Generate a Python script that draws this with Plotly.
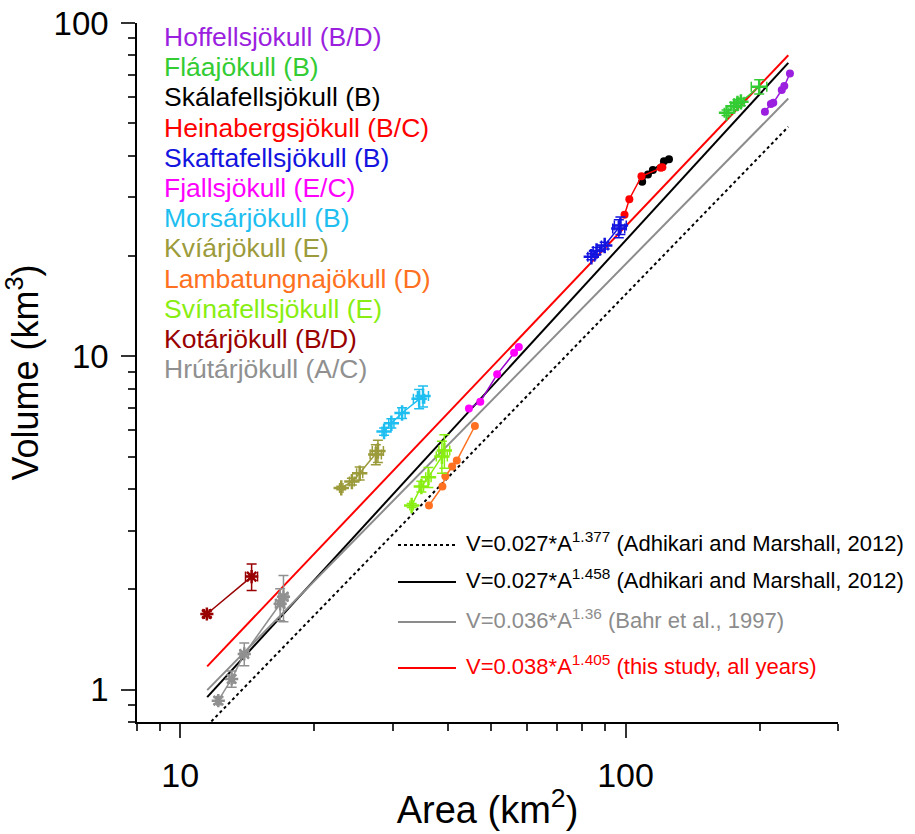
import plotly.graph_objects as go
import math

# ---------------- data ----------------
glaciers = ["Hoffellsjökull (B/D)", "Fláajökull (B)", "Skálafellsjökull (B)", "Heinabergsjökull (B/C)",
            "Skaftafellsjökull (B)", "Fjallsjökull (E/C)", "Morsárjökull (B)", "Kvíárjökull (E)",
            "Lambatungnajökull (D)", "Svínafellsjökull (E)", "Kotárjökull (B/D)", "Hrútárjökull (A/C)"]
colors = ["#9B1FDF", "#33CC33", "#000000", "#FF0000", "#1414E0", "#FF00FF", "#1EBFF0", "#9C9B3B",
          "#FF7020", "#88EE11", "#990000", "#909090"]
line_colors = ["#9B1FDF", "#33CC33", "#000000", "#FF0000", "#1414E0", "#9900CC", "#1EBFF0", "#9C9B3B",
               "#FF7020", "#88EE11", "#990000", "#909090"]
symbols = ["circle", "cross-thin", "circle", "circle", "cross-thin", "circle", "cross-thin", "cross-thin",
           "circle", "cross-thin", "asterisk", "asterisk"]

hoff_A = [205.6, 212.0, 214.7, 224.3, 227.3, 234.0]
hoff_V = [54.2, 57.1, 57.6, 62.9, 64.7, 70.6]
flaa_A = [168.6, 175.4, 178.4, 181.6, 199.6]
flaa_V = [53.8, 56.3, 57.4, 58.0, 64.4]
flaa_eA = [2, 3, 3, 3, 8]
flaa_eV = [1.0, 1.5, 1.5, 1.5, 3.2]
skal_A = [109.0, 112.3, 115.2, 122.0, 125.2]
skal_V = [33.4, 35.1, 36.2, 38.5, 39.0]
hein_A = [99.5, 102.0, 108.6, 120.0, 121.0]
hein_V = [26.6, 29.6, 34.7, 36.8, 36.9]
skaf_A = [83.8, 86.1, 89.8, 96.6, 97.4]
skaf_V = [19.9, 20.7, 21.5, 24.2, 24.7]
skaf_eA = [1.5, 1.5, 1.5, 3.0, 3.0]
skaf_eV = [0.4, 0.5, 0.5, 1.5, 1.5]
fjal_A = [44.5, 47.2, 51.5, 56.2, 57.6]
fjal_V = [6.97, 7.31, 8.83, 10.26, 10.66]
mors_A = [28.7, 29.8, 31.5, 34.4, 35.1]
mors_V = [5.95, 6.30, 6.76, 7.46, 7.60]
mors_eA = [0.3, 0.4, 0.5, 1.0, 1.0]
mors_eV = [0.15, 0.2, 0.25, 0.5, 0.55]
kvia_A = [23.0, 24.3, 25.3, 27.5, 27.8]
kvia_V = [4.03, 4.21, 4.46, 5.08, 5.20]
kvia_eA = [0.2, 0.3, 0.4, 0.8, 0.8]
kvia_eV = [0.05, 0.1, 0.2, 0.35, 0.4]
lamb_A = [36.2, 38.8, 39.4, 40.8, 41.8, 45.9]
lamb_V = [3.57, 4.07, 4.37, 4.67, 4.87, 6.18]
svin_A = [33.1, 34.8, 36.1, 38.7, 39.2]
svin_V = [3.57, 4.07, 4.34, 5.01, 5.22]
svin_eA = [0.3, 0.4, 0.5, 1.1, 1.1]
svin_eV = [0.05, 0.15, 0.3, 0.55, 0.6]
kota_A = [11.48, 14.47]
kota_V = [1.687, 2.184]
kota_eA = [0.15, 0.45]
kota_eV = [0.03, 0.2]
hrut_A = [12.18, 13.05, 13.93, 16.77, 17.06]
hrut_V = [0.927, 1.077, 1.28, 1.81, 1.90]
hrut_eA = [0.1, 0.15, 0.3, 0.4, 0.4]
hrut_eV = [0.02, 0.06, 0.1, 0.2, 0.3]

series_A = [hoff_A, flaa_A, skal_A, hein_A, skaf_A, fjal_A, mors_A, kvia_A, lamb_A, svin_A, kota_A, hrut_A]
series_V = [hoff_V, flaa_V, skal_V, hein_V, skaf_V, fjal_V, mors_V, kvia_V, lamb_V, svin_V, kota_V, hrut_V]
series_eA = [None, flaa_eA, None, None, skaf_eA, None, mors_eA, kvia_eA, None, svin_eA, kota_eA, hrut_eA]
series_eV = [None, flaa_eV, None, None, skaf_eV, None, mors_eV, kvia_eV, None, svin_eV, kota_eV, hrut_eV]

# scaling relations V = c * A^g
fit_c = [0.027, 0.027, 0.036, 0.038]
fit_g = [1.377, 1.458, 1.36, 1.405]
fit_labels = ["V=0.027*A<sup>1.377</sup> (Adhikari and Marshall, 2012)",
              "V=0.027*A<sup>1.458</sup> (Adhikari and Marshall, 2012)",
              "V=0.036*A<sup>1.36</sup> (Bahr et al., 1997)",
              "V=0.038*A<sup>1.405</sup> (this study, all years)"]
fit_colors = ["#000000", "#000000", "#8C8C8C", "#FF0000"]
fit_dash = ["dot", "solid", "solid", "solid"]
fit_A_range = [11.5, 232.0]

x_major = [10, 100]
x_minor = [8, 9, 20, 30, 40, 50, 60, 70, 80, 90, 200, 300]
y_major = [1, 10, 100]
y_minor = [0.8, 0.9, 2, 3, 4, 5, 6, 7, 8, 9, 20, 30, 40, 50, 60, 70, 80, 90]

# ---------------- figure ----------------
fig = go.Figure()

for c, g, col, d in zip(fit_c, fit_g, fit_colors, fit_dash):
    fig.add_trace(go.Scatter(x=fit_A_range, y=[c * a ** g for a in fit_A_range], mode="lines",
                             line=dict(color=col, width=2, dash=d), showlegend=False, hoverinfo="skip"))

for name, col, lcol, sym, A, V, eA, eV in zip(glaciers, colors, line_colors, symbols,
                                              series_A, series_V, series_eA, series_eV):
    is_open = sym in ("cross-thin", "asterisk")
    marker = dict(symbol=sym, color=col, size=11 if is_open else 8,
                  line=dict(color=col, width=2.5 if is_open else 0))
    tr = dict(x=A, y=V, mode="lines+markers", name=name,
              line=dict(color=lcol, width=1.5), marker=marker, showlegend=False)
    if eA is not None:
        tr["error_x"] = dict(type="data", array=eA, color=col, thickness=1.5, width=5)
        tr["error_y"] = dict(type="data", array=eV, color=col, thickness=1.5, width=5)
    fig.add_trace(go.Scatter(**tr))

# plot-area pixel helpers for placing the text blocks
x0, x1, y0, y1 = 137, 838, 23, 722
def px(x):
    return (x - x0) / (x1 - x0)
def py(y):
    return (y1 - y) / (y1 - y0)

font_main = "Liberation Sans, Arial, sans-serif"

# glacier name labels (top-left)
for i, (name, col) in enumerate(zip(glaciers, colors)):
    fig.add_annotation(x=px(162), y=py(37 + i * 30.2), xref="paper", yref="paper",
                       text=name, showarrow=False, xanchor="left", yanchor="middle",
                       font=dict(family=font_main, size=26.5, color=col))

# relation legend (bottom-right)
leg_y = [545, 582, 622, 668]
for lab, col, d, yy in zip(fit_labels, fit_colors, fit_dash, leg_y):
    fig.add_shape(type="line", xref="paper", yref="paper", x0=px(398), x1=px(456), y0=py(yy), y1=py(yy),
                  line=dict(color=col, width=2, dash=d))
    fig.add_annotation(x=px(464), y=py(yy - 3), xref="paper", yref="paper", text=lab, showarrow=False,
                       xanchor="left", yanchor="middle",
                       font=dict(family=font_main, size=22, color=col))

fig.update_layout(
    width=915, height=834,
    margin=dict(l=137, r=77, t=23, b=112, autoexpand=False),
    paper_bgcolor="white", plot_bgcolor="white",
    xaxis=dict(type="log", range=[math.log10(8), math.log10(300)], tickvals=x_major,
               ticktext=[str(v) for v in x_major], automargin=False,
               ticks="outside", ticklen=14, tickwidth=1.5, tickcolor="#333",
               minor=dict(tickvals=x_minor, ticks="outside", ticklen=7, tickwidth=1.5, tickcolor="#333"),
               showline=True, linecolor="black", linewidth=1.5, showgrid=False, zeroline=False,
               tickfont=dict(family=font_main, size=34, color="black"),
               ticklabelstandoff=8,
               title=dict(text="Area (km<sup>2</sup>)", font=dict(family=font_main, size=38, color="black"),
                          standoff=4)),
    yaxis=dict(type="log", range=[math.log10(0.8), 2], tickvals=y_major,
               ticktext=[str(v) for v in y_major], automargin=False,
               ticks="outside", ticklen=14, tickwidth=1.5, tickcolor="#333",
               minor=dict(tickvals=y_minor, ticks="outside", ticklen=7, tickwidth=1.5, tickcolor="#333"),
               showline=True, linecolor="black", linewidth=1.5, showgrid=False, zeroline=False,
               tickfont=dict(family=font_main, size=33, color="black"),
               ticklabelstandoff=6,
               title=dict(text="Volume (km<sup>3</sup>)", font=dict(family=font_main, size=36, color="black"),
                          standoff=10)),
)

fig.write_html("out.html")
